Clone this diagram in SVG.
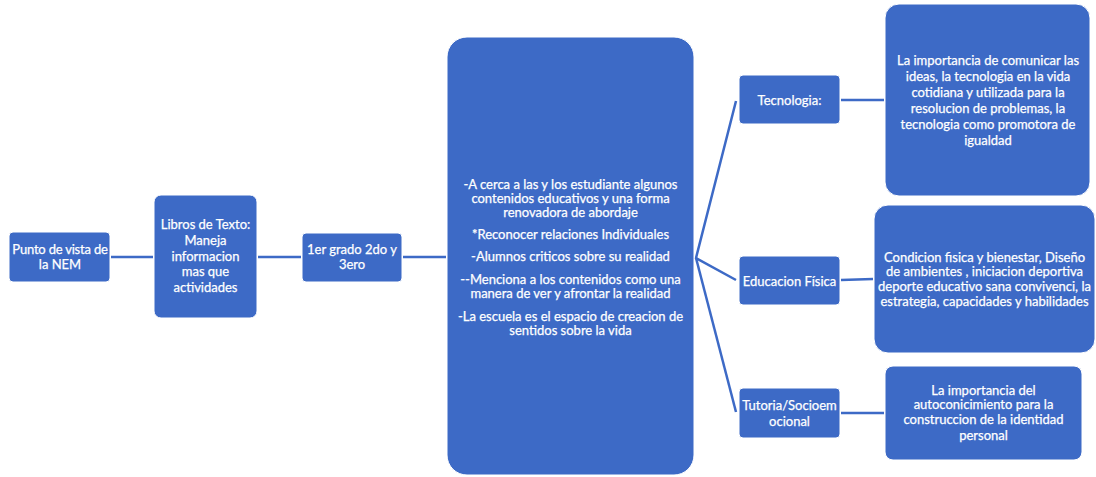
<svg xmlns="http://www.w3.org/2000/svg" width="1096" height="477" viewBox="0 0 1096 477">
<style>
.n{fill:#3D6AC6;stroke:#ffffff;stroke-width:1}
.t{font-family:Lato,"Liberation Sans",sans-serif;font-size:13px;fill:#ffffff;stroke:#ffffff;stroke-width:0.25;text-anchor:middle}
.c{stroke:#3D6AC6;stroke-width:2.5;fill:none}
</style>
<rect width="1096" height="477" fill="#ffffff"/>
<g id="connectors">
<line class="c" x1="111" y1="257" x2="153" y2="257"/>
<line class="c" x1="258" y1="257" x2="301" y2="257"/>
<line class="c" x1="403" y1="257" x2="446" y2="257"/>
<polyline class="c" points="736,101 696,258 736,280"/>
<line class="c" x1="696" y1="258" x2="736" y2="412"/>
<line class="c" x1="841" y1="100" x2="884" y2="100"/>
<line class="c" x1="841" y1="280" x2="873" y2="279"/>
<line class="c" x1="841" y1="413" x2="884" y2="413"/>
</g>
<g id="n1"><rect class="n" x="9" y="232" width="101" height="50" rx="4"/>
<text class="t"><tspan x="60" y="254" letter-spacing="-0.2">Punto de vista de</tspan><tspan x="60" y="269">la NEM</tspan></text></g>
<g id="n2"><rect class="n" x="154" y="195" width="103" height="123" rx="7"/>
<text class="t"><tspan x="205.5" y="229">Libros de Texto:</tspan><tspan x="205.5" y="245">Maneja</tspan><tspan x="205.5" y="260.5">informacion</tspan><tspan x="205.5" y="276">mas que</tspan><tspan x="205.5" y="291.5">actividades</tspan></text></g>
<g id="n3"><rect class="n" x="302" y="233" width="100" height="49" rx="4"/>
<text class="t"><tspan x="352" y="254">1er grado 2do y</tspan><tspan x="352" y="268.5">3ero</tspan></text></g>
<g id="n4"><rect class="n" x="447" y="37" width="247" height="438" rx="20"/>
<text class="t"><tspan x="570.5" y="188.5">-A cerca a las y los estudiante algunos</tspan><tspan x="570.5" y="202.5">contenidos educativos y una forma</tspan><tspan x="570.5" y="216.5">renovadora de abordaje</tspan><tspan x="570.5" y="238.5">*Reconocer relaciones Individuales</tspan><tspan x="570.5" y="261">-Alumnos criticos sobre su realidad</tspan><tspan x="570.5" y="283.5">--Menciona a los contenidos como una</tspan><tspan x="570.5" y="297.5">manera de ver y afrontar la realidad</tspan><tspan x="570.5" y="320.5">-La escuela es el espacio de creacion  de</tspan><tspan x="570.5" y="334.5">sentidos sobre la vida</tspan></text></g>
<g id="n5"><rect class="n" x="739" y="75" width="101" height="49" rx="4"/>
<text class="t"><tspan x="789.5" y="104.5">Tecnologia:</tspan></text></g>
<g id="n6"><rect class="n" x="885" y="4" width="205" height="192" rx="14"/>
<text class="t"><tspan x="988" y="64.5">La importancia de comunicar las</tspan><tspan x="988" y="80.5">ideas, la tecnologia en la vida</tspan><tspan x="988" y="96.5">cotidiana y utilizada para la</tspan><tspan x="988" y="112.5">resolucion de problemas, la</tspan><tspan x="988" y="128.5">tecnologia como promotora de</tspan><tspan x="988" y="144.5">igualdad</tspan></text></g>
<g id="n7"><rect class="n" x="739" y="256" width="101" height="49" rx="4"/>
<text class="t"><tspan x="789.5" y="285.5">Educacion Física</tspan></text></g>
<g id="n8"><rect class="n" x="874" y="205" width="221" height="148" rx="14"/>
<text class="t"><tspan x="984.5" y="261.5">Condicion fisica y bienestar, Diseño</tspan><tspan x="984.5" y="276">de ambientes , iniciacion deportiva</tspan><tspan x="984.5" y="290.5">deporte educativo sana convivenci, la</tspan><tspan x="984.5" y="305.5">estrategia, capacidades y habilidades</tspan></text></g>
<g id="n9"><rect class="n" x="739" y="388" width="101" height="50" rx="4"/>
<text class="t"><tspan x="789.5" y="409.5">Tutoria/Socioem</tspan><tspan x="789.5" y="425.5">ocional</tspan></text></g>
<g id="n10"><rect class="n" x="885" y="366" width="197" height="94" rx="8"/>
<text class="t"><tspan x="983.5" y="394.5">La importancia del</tspan><tspan x="983.5" y="409">autoconicimiento  para la</tspan><tspan x="983.5" y="424">construccion de la identidad</tspan><tspan x="983.5" y="439.5">personal</tspan></text></g>
</svg>
